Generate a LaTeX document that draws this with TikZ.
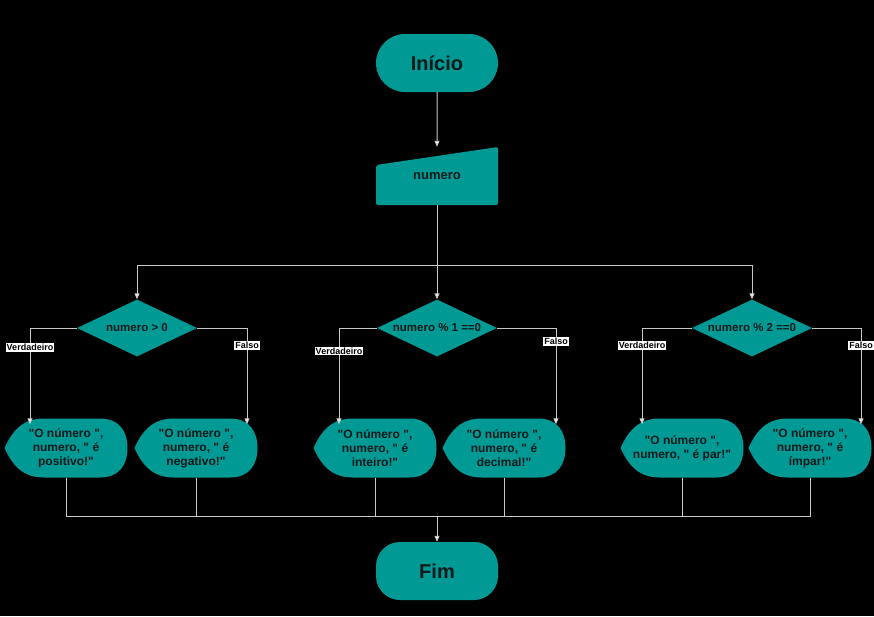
\documentclass[tikz,border=0pt]{standalone}
\usepackage{fontspec}
\setmainfont{Liberation Sans}[Ligatures=TeXOff]
\usetikzlibrary{shapes.geometric,shapes.misc,arrows.meta}
\definecolor{verde}{RGB}{0,153,148}
\definecolor{linha}{RGB}{200,200,200}
\definecolor{escuro}{RGB}{15,25,25}

\newcommand{\saida}[3]{%
  \fill[verde, shift={(#2)}] (-61.5,0) .. controls (-53,-19) and (-42,-29.5) .. (-22,-29.5) -- (34,-29.5)
     .. controls (53,-29.5) and (61.5,-17) .. (61.5,0) .. controls (61.5,17) and (53,29.5) .. (34,29.5)
     -- (-22,29.5) .. controls (-42,29.5) and (-53,19) .. (-61.5,0) -- cycle;
  \node[caixa] (#1) at (#2) {#3};}

\begin{document}
\begin{tikzpicture}[x=1pt, y=-1pt,
    fio/.style={draw=linha, line width=1pt},
    seta/.style={fio, -{Triangle[length=6pt,width=5pt,fill=white]}},
    texto/.style={text=escuro, font=\bfseries\fontsize{12}{14}\selectfont, align=center, inner sep=0pt},
    caixa/.style={texto, minimum width=123pt, minimum height=59pt},
    losango/.style={diamond, fill=verde, texto, font=\bfseries\fontsize{11.5}{14}\selectfont,
                    minimum width=120pt, minimum height=57pt, shape aspect=2.1},
    termino/.style={fill=verde, texto, font=\bfseries\fontsize{20}{24}\selectfont,
                    minimum width=122pt, minimum height=58pt},
    rotulo/.style={fill=white, text=black, font=\bfseries\fontsize{9}{10}\selectfont, inner sep=1pt}]
                        \fill[black] (0,0) rectangle (874,616);
                        \useasboundingbox (0,0) rectangle (874,616);
                        \node[termino, rounded rectangle] (inicio) at (437,63) {Início};
                        \fill[verde, rounded corners=2pt] (376,165) -- (498,147) -- (498,205) -- (376,205) -- cycle;
                        \node[texto, font=\bfseries\fontsize{13}{15}\selectfont, minimum width=122pt, minimum height=58pt] (entrada) at (437,176) {numero};
                        \node[losango] (l1) at (137,328) {numero > 0};
                        \node[losango] (l2) at (437,328) {numero \% 1 ==0};
                        \node[losango] (l3) at (752,328) {numero \% 2 ==0};
                        \saida{s1}{66,448}{"O número ",\\numero, " é\\positivo!"}
                        \saida{s2}{196,448}{"O número ",\\numero, " é\\negativo!"}
                        \saida{s3}{375,448}{"O número ",\\numero, " é\\inteiro!"}
                        \saida{s4}{504,448}{"O número ",\\numero, " é\\decimal!"}
                        \saida{s5}{682,448}{"O número ",\\numero, " é par!"}
                        \saida{s6}{810,448}{"O número ",\\numero, " é\\ímpar!"}
                        \node[termino, rectangle, rounded corners=24pt] (fim) at (437,571) {Fim};
                        \coordinate (ramo) at (437,265);
                        \coordinate (junta) at (437,516);
                        \draw[seta] (inicio) -- (entrada);
                        \draw[fio] (entrada) -- (ramo);
                        \draw[seta] (ramo) -| (l1.north);
                        \draw[seta] (ramo) -- (l2.north);
                        \draw[seta] (ramo) -| (l3.north);
                        \draw[seta] (l1.west) -| ([xshift=-36pt,yshift=-6pt]s1.north) node[rotulo, pos=0.6] {Verdadeiro};
                        \draw[seta] (l1.east) -| ([xshift=51pt,yshift=-6pt]s2.north) node[rotulo, pos=0.59] {Falso};
                        \draw[seta] (l2.west) -| ([xshift=-36pt,yshift=-6pt]s3.north) node[rotulo, pos=0.62] {Verdadeiro};
                        \draw[seta] (l2.east) -| ([xshift=52pt,yshift=-6pt]s4.north) node[rotulo, pos=0.57] {Falso};
                        \draw[seta] (l3.west) -| ([xshift=-40pt,yshift=-6pt]s5.north) node[rotulo, pos=0.59] {Verdadeiro};
                        \draw[seta] (l3.east) -| ([xshift=51pt,yshift=-6pt]s6.north) node[rotulo, pos=0.59] {Falso};
                        \foreach \s in {s1,s2,s3,s4,s5,s6}
                                \draw[fio] (\s.south) |- (junta);
                        \draw[seta] (junta) -- (fim);
                \end{tikzpicture}
\end{document}
